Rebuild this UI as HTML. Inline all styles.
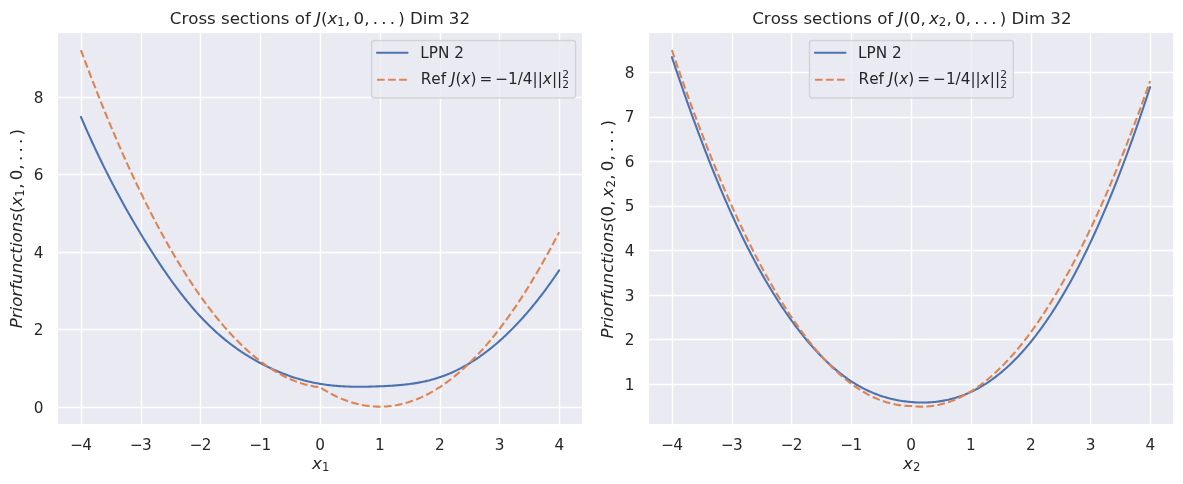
<!DOCTYPE html>
<html lang="en"><head><meta charset="utf-8"><title>Cross sections</title>
<style>html,body{margin:0;padding:0;background:#fff}body{width:1183px;height:484px;overflow:hidden}svg{display:block}svg text{white-space:pre}</style></head>
<body>
<svg width="1183" height="484" viewBox="0 0 1183 484" font-family='"DejaVu Sans","Liberation Sans",sans-serif' fill="#262626">
<rect width="1183" height="484" fill="#fff"/>
<defs><clipPath id="c1"><rect x="57" y="32.2" width="526" height="392.3"/></clipPath><clipPath id="c2"><rect x="648" y="32.2" width="526" height="392.3"/></clipPath></defs>
<g id="axes1">
<rect x="58" y="33" width="524" height="391" fill="#eaeaf2"/>
<path d="M81.5 33V424M141.5 33V424M200.5 33V424M260.5 33V424M320.5 33V424M380.5 33V424M440.5 33V424M499.5 33V424M559.5 33V424M58 407.5H582M58 329.5H582M58 252.5H582M58 174.5H582M58 97.5H582" stroke="#fff" stroke-width="1.39" fill="none"/>
<path d="M80.91 116.87L82.4 120.34L83.9 123.78L85.39 127.18L86.89 130.55L88.38 133.88L89.88 137.19L91.37 140.46L92.86 143.71L94.36 146.92L95.85 150.11L97.35 153.26L98.84 156.38L100.34 159.48L101.83 162.55L103.32 165.59L104.82 168.6L106.31 171.59L107.81 174.55L109.3 177.48L110.8 180.39L112.29 183.27L113.78 186.13L115.28 188.96L116.77 191.77L118.27 194.56L119.76 197.32L121.26 200.06L122.75 202.77L124.24 205.47L125.74 208.14L127.23 210.79L128.73 213.43L130.22 216.04L131.72 218.63L133.21 221.2L134.7 223.75L136.2 226.29L137.69 228.8L139.19 231.3L140.68 233.78L142.18 236.24L143.67 238.69L145.16 241.12L146.66 243.53L148.15 245.92L149.65 248.3L151.14 250.65L152.64 252.99L154.13 255.31L155.62 257.61L157.12 259.89L158.61 262.15L160.11 264.39L161.6 266.61L163.1 268.81L164.59 271L166.09 273.16L167.58 275.29L169.07 277.41L170.57 279.51L172.06 281.58L173.56 283.64L175.05 285.67L176.55 287.67L178.04 289.66L179.53 291.62L181.03 293.56L182.52 295.48L184.02 297.37L185.51 299.24L187.01 301.09L188.5 302.91L189.99 304.71L191.49 306.48L192.98 308.23L194.48 309.95L195.97 311.64L197.47 313.32L198.96 314.96L200.45 316.58L201.95 318.17L203.44 319.74L204.94 321.28L206.43 322.8L207.93 324.29L209.42 325.75L210.91 327.2L212.41 328.61L213.9 330.01L215.4 331.38L216.89 332.72L218.39 334.05L219.88 335.35L221.38 336.63L222.87 337.88L224.36 339.12L225.86 340.33L227.35 341.52L228.85 342.7L230.34 343.85L231.84 344.98L233.33 346.09L234.82 347.18L236.32 348.25L237.81 349.3L239.31 350.34L240.8 351.35L242.3 352.35L243.79 353.33L245.28 354.29L246.78 355.24L248.27 356.17L249.77 357.08L251.26 357.97L252.76 358.85L254.25 359.72L255.74 360.56L257.24 361.4L258.73 362.22L260.23 363.02L261.72 363.81L263.22 364.58L264.71 365.35L266.2 366.09L267.7 366.83L269.19 367.55L270.69 368.25L272.18 368.94L273.68 369.62L275.17 370.28L276.66 370.93L278.16 371.57L279.65 372.19L281.15 372.8L282.64 373.39L284.14 373.97L285.63 374.54L287.12 375.09L288.62 375.63L290.11 376.16L291.61 376.67L293.1 377.17L294.6 377.65L296.09 378.12L297.59 378.58L299.08 379.03L300.57 379.46L302.07 379.87L303.56 380.28L305.06 380.67L306.55 381.05L308.05 381.41L309.54 381.76L311.03 382.1L312.53 382.42L314.02 382.73L315.52 383.03L317.01 383.32L318.51 383.59L320 383.85L321.49 384.09L322.99 384.33L324.48 384.55L325.98 384.76L327.47 384.95L328.97 385.14L330.46 385.31L331.95 385.47L333.45 385.62L334.94 385.76L336.44 385.89L337.93 386.01L339.43 386.12L340.92 386.22L342.41 386.31L343.91 386.39L345.4 386.46L346.9 386.53L348.39 386.58L349.89 386.63L351.38 386.67L352.88 386.7L354.37 386.73L355.86 386.75L357.36 386.76L358.85 386.76L360.35 386.76L361.84 386.75L363.34 386.74L364.83 386.72L366.32 386.7L367.82 386.67L369.31 386.64L370.81 386.6L372.3 386.56L373.8 386.51L375.29 386.46L376.78 386.41L378.28 386.36L379.77 386.3L381.27 386.24L382.76 386.17L384.26 386.1L385.75 386.03L387.24 385.96L388.74 385.88L390.23 385.79L391.73 385.7L393.22 385.61L394.72 385.5L396.21 385.39L397.7 385.28L399.2 385.15L400.69 385.02L402.19 384.88L403.68 384.73L405.18 384.57L406.67 384.4L408.16 384.22L409.66 384.03L411.15 383.83L412.65 383.61L414.14 383.39L415.64 383.15L417.13 382.9L418.62 382.64L420.12 382.36L421.61 382.07L423.11 381.77L424.6 381.45L426.1 381.11L427.59 380.76L429.09 380.39L430.58 380.01L432.07 379.61L433.57 379.19L435.06 378.76L436.56 378.3L438.05 377.83L439.55 377.34L441.04 376.82L442.53 376.29L444.03 375.74L445.52 375.17L447.02 374.58L448.51 373.97L450.01 373.34L451.5 372.69L452.99 372.02L454.49 371.33L455.98 370.62L457.48 369.89L458.97 369.14L460.47 368.37L461.96 367.58L463.45 366.77L464.95 365.94L466.44 365.09L467.94 364.22L469.43 363.32L470.93 362.41L472.42 361.48L473.91 360.53L475.41 359.55L476.9 358.56L478.4 357.54L479.89 356.5L481.39 355.45L482.88 354.37L484.38 353.27L485.87 352.15L487.36 351.01L488.86 349.85L490.35 348.67L491.85 347.46L493.34 346.24L494.84 344.99L496.33 343.72L497.82 342.43L499.32 341.12L500.81 339.79L502.31 338.44L503.8 337.07L505.3 335.67L506.79 334.25L508.28 332.81L509.78 331.35L511.27 329.87L512.77 328.36L514.26 326.84L515.76 325.29L517.25 323.72L518.74 322.12L520.24 320.51L521.73 318.87L523.23 317.21L524.72 315.52L526.22 313.82L527.71 312.09L529.2 310.33L530.7 308.56L532.19 306.76L533.69 304.94L535.18 303.1L536.68 301.23L538.17 299.34L539.66 297.42L541.16 295.49L542.65 293.53L544.15 291.54L545.64 289.53L547.14 287.5L548.63 285.45L550.12 283.37L551.62 281.26L553.11 279.14L554.61 276.99L556.1 274.81L557.6 272.61L559.09 270.39" clip-path="url(#c1)" fill="none" stroke="#4c72b0" stroke-width="2.083" stroke-linecap="round" stroke-linejoin="round"/>
<path d="M80.91 50.03L82.4 54.07L83.9 58.08L85.39 62.06L86.89 66.02L88.38 69.96L89.88 73.87L91.37 77.76L92.86 81.63L94.36 85.47L95.85 89.28L97.35 93.07L98.84 96.84L100.34 100.58L101.83 104.3L103.32 108L104.82 111.67L106.31 115.31L107.81 118.94L109.3 122.53L110.8 126.11L112.29 129.66L113.78 133.18L115.28 136.68L116.77 140.16L118.27 143.61L119.76 147.04L121.26 150.44L122.75 153.82L124.24 157.18L125.74 160.51L127.23 163.82L128.73 167.1L130.22 170.36L131.72 173.59L133.21 176.8L134.7 179.99L136.2 183.15L137.69 186.29L139.19 189.4L140.68 192.49L142.18 195.56L143.67 198.6L145.16 201.61L146.66 204.61L148.15 207.57L149.65 210.52L151.14 213.44L152.64 216.33L154.13 219.2L155.62 222.05L157.12 224.87L158.61 227.67L160.11 230.45L161.6 233.2L163.1 235.92L164.59 238.62L166.09 241.3L167.58 243.95L169.07 246.58L170.57 249.19L172.06 251.77L173.56 254.32L175.05 256.85L176.55 259.36L178.04 261.85L179.53 264.3L181.03 266.74L182.52 269.15L184.02 271.54L185.51 273.9L187.01 276.24L188.5 278.55L189.99 280.84L191.49 283.11L192.98 285.35L194.48 287.56L195.97 289.76L197.47 291.92L198.96 294.07L200.45 296.19L201.95 298.28L203.44 300.36L204.94 302.4L206.43 304.43L207.93 306.42L209.42 308.4L210.91 310.35L212.41 312.28L213.9 314.18L215.4 316.06L216.89 317.91L218.39 319.74L219.88 321.54L221.38 323.32L222.87 325.08L224.36 326.81L225.86 328.52L227.35 330.2L228.85 331.86L230.34 333.5L231.84 335.11L233.33 336.7L234.82 338.26L236.32 339.8L237.81 341.31L239.31 342.8L240.8 344.27L242.3 345.71L243.79 347.13L245.28 348.52L246.78 349.89L248.27 351.23L249.77 352.55L251.26 353.85L252.76 355.12L254.25 356.37L255.74 357.59L257.24 358.79L258.73 359.97L260.23 361.12L261.72 362.25L263.22 363.35L264.71 364.43L266.2 365.48L267.7 366.51L269.19 367.52L270.69 368.5L272.18 369.45L273.68 370.39L275.17 371.3L276.66 372.18L278.16 373.04L279.65 373.88L281.15 374.69L282.64 375.47L284.14 376.24L285.63 376.98L287.12 377.69L288.62 378.38L290.11 379.05L291.61 379.69L293.1 380.31L294.6 380.9L296.09 381.47L297.59 382.02L299.08 382.54L300.57 383.03L302.07 383.51L303.56 383.95L305.06 384.38L306.55 384.78L308.05 385.15L309.54 385.51L311.03 385.83L312.53 386.13L314.02 386.41L315.52 386.67L317.01 386.9L318.51 387.1L320 387.29L321.49 388.24L322.99 389.18L324.48 390.08L325.98 390.97L327.47 391.83L328.97 392.66L330.46 393.48L331.95 394.26L333.45 395.03L334.94 395.77L336.44 396.48L337.93 397.17L339.43 397.84L340.92 398.48L342.41 399.1L343.91 399.69L345.4 400.26L346.9 400.81L348.39 401.33L349.89 401.82L351.38 402.3L352.88 402.74L354.37 403.17L355.86 403.57L357.36 403.94L358.85 404.29L360.35 404.62L361.84 404.92L363.34 405.2L364.83 405.46L366.32 405.69L367.82 405.89L369.31 406.07L370.81 406.23L372.3 406.37L373.8 406.47L375.29 406.56L376.78 406.62L378.28 406.66L379.77 406.67L381.27 406.66L382.76 406.62L384.26 406.56L385.75 406.47L387.24 406.37L388.74 406.23L390.23 406.07L391.73 405.89L393.22 405.69L394.72 405.46L396.21 405.2L397.7 404.92L399.2 404.62L400.69 404.29L402.19 403.94L403.68 403.57L405.18 403.17L406.67 402.74L408.16 402.3L409.66 401.82L411.15 401.33L412.65 400.81L414.14 400.26L415.64 399.69L417.13 399.1L418.62 398.48L420.12 397.84L421.61 397.17L423.11 396.48L424.6 395.77L426.1 395.03L427.59 394.26L429.09 393.48L430.58 392.66L432.07 391.83L433.57 390.97L435.06 390.08L436.56 389.18L438.05 388.24L439.55 387.29L441.04 386.3L442.53 385.3L444.03 384.27L445.52 383.22L447.02 382.14L448.51 381.03L450.01 379.91L451.5 378.76L452.99 377.58L454.49 376.38L455.98 375.16L457.48 373.91L458.97 372.64L460.47 371.34L461.96 370.02L463.45 368.68L464.95 367.31L466.44 365.92L467.94 364.5L469.43 363.06L470.93 361.59L472.42 360.1L473.91 358.59L475.41 357.05L476.9 355.49L478.4 353.9L479.89 352.29L481.39 350.65L482.88 348.99L484.38 347.31L485.87 345.6L487.36 343.87L488.86 342.11L490.35 340.33L491.85 338.53L493.34 336.7L494.84 334.84L496.33 332.97L497.82 331.06L499.32 329.14L500.81 327.19L502.31 325.21L503.8 323.21L505.3 321.19L506.79 319.14L508.28 317.07L509.78 314.98L511.27 312.86L512.77 310.71L514.26 308.54L515.76 306.35L517.25 304.14L518.74 301.89L520.24 299.63L521.73 297.34L523.23 295.03L524.72 292.69L526.22 290.33L527.71 287.94L529.2 285.53L530.7 283.09L532.19 280.63L533.69 278.15L535.18 275.64L536.68 273.11L538.17 270.56L539.66 267.97L541.16 265.37L542.65 262.74L544.15 260.09L545.64 257.41L547.14 254.71L548.63 251.98L550.12 249.23L551.62 246.46L553.11 243.66L554.61 240.84L556.1 237.99L557.6 235.12L559.09 232.23" clip-path="url(#c1)" fill="none" stroke="#dd8452" stroke-width="2.083" stroke-dasharray="7.708 3.333" stroke-linejoin="round"/>
</g>
<g id="axes2">
<rect x="649" y="33" width="524" height="391" fill="#eaeaf2"/>
<path d="M672.5 33V424M732.5 33V424M791.5 33V424M851.5 33V424M911.5 33V424M971.5 33V424M1031.5 33V424M1090.5 33V424M1150.5 33V424M649 384.5H1173M649 339.5H1173M649 295.5H1173M649 250.5H1173M649 206.5H1173M649 161.5H1173M649 117.5H1173M649 72.5H1173" stroke="#fff" stroke-width="1.39" fill="none"/>
<path d="M671.91 57.18L673.4 61.66L674.9 66.12L676.39 70.56L677.89 74.96L679.38 79.34L680.88 83.7L682.37 88.02L683.86 92.32L685.36 96.59L686.85 100.84L688.35 105.05L689.84 109.24L691.34 113.4L692.83 117.53L694.32 121.64L695.82 125.71L697.31 129.75L698.81 133.77L700.3 137.75L701.8 141.71L703.29 145.63L704.78 149.53L706.28 153.39L707.77 157.23L709.27 161.03L710.76 164.8L712.26 168.54L713.75 172.25L715.24 175.93L716.74 179.57L718.23 183.18L719.73 186.76L721.22 190.31L722.72 193.83L724.21 197.31L725.7 200.76L727.2 204.17L728.69 207.55L730.19 210.9L731.68 214.21L733.18 217.49L734.67 220.74L736.16 223.95L737.66 227.12L739.15 230.27L740.65 233.37L742.14 236.45L743.64 239.49L745.13 242.5L746.62 245.48L748.12 248.43L749.61 251.34L751.11 254.22L752.6 257.07L754.1 259.88L755.59 262.67L757.09 265.42L758.58 268.14L760.07 270.83L761.57 273.49L763.06 276.12L764.56 278.72L766.05 281.29L767.55 283.82L769.04 286.33L770.53 288.81L772.03 291.26L773.52 293.67L775.02 296.06L776.51 298.42L778.01 300.75L779.5 303.05L780.99 305.33L782.49 307.57L783.98 309.79L785.48 311.97L786.97 314.13L788.47 316.27L789.96 318.37L791.45 320.45L792.95 322.5L794.44 324.52L795.94 326.51L797.43 328.48L798.93 330.42L800.42 332.34L801.91 334.22L803.41 336.08L804.9 337.92L806.4 339.72L807.89 341.5L809.39 343.25L810.88 344.97L812.38 346.67L813.87 348.34L815.36 349.98L816.86 351.6L818.35 353.18L819.85 354.74L821.34 356.28L822.84 357.78L824.33 359.26L825.82 360.72L827.32 362.14L828.81 363.54L830.31 364.91L831.8 366.26L833.3 367.58L834.79 368.87L836.28 370.13L837.78 371.37L839.27 372.58L840.77 373.76L842.26 374.92L843.76 376.05L845.25 377.15L846.74 378.22L848.24 379.27L849.73 380.29L851.23 381.29L852.72 382.26L854.22 383.2L855.71 384.11L857.2 385L858.7 385.87L860.19 386.7L861.69 387.52L863.18 388.31L864.68 389.07L866.17 389.81L867.66 390.52L869.16 391.21L870.65 391.88L872.15 392.53L873.64 393.15L875.14 393.75L876.63 394.32L878.12 394.88L879.62 395.41L881.11 395.92L882.61 396.41L884.1 396.88L885.6 397.32L887.09 397.75L888.59 398.16L890.08 398.55L891.57 398.91L893.07 399.26L894.56 399.59L896.06 399.9L897.55 400.19L899.05 400.47L900.54 400.72L902.03 400.96L903.53 401.18L905.02 401.38L906.52 401.57L908.01 401.74L909.51 401.89L911 402.03L912.49 402.15L913.99 402.26L915.48 402.35L916.98 402.42L918.47 402.48L919.97 402.52L921.46 402.54L922.95 402.54L924.45 402.53L925.94 402.5L927.44 402.45L928.93 402.38L930.43 402.29L931.92 402.19L933.41 402.07L934.91 401.92L936.4 401.76L937.9 401.57L939.39 401.37L940.89 401.15L942.38 400.9L943.88 400.64L945.37 400.35L946.86 400.04L948.36 399.72L949.85 399.36L951.35 398.99L952.84 398.6L954.34 398.18L955.83 397.74L957.32 397.27L958.82 396.79L960.31 396.28L961.81 395.74L963.3 395.18L964.8 394.6L966.29 393.99L967.78 393.36L969.28 392.7L970.77 392.02L972.27 391.31L973.76 390.58L975.26 389.82L976.75 389.04L978.24 388.23L979.74 387.39L981.23 386.52L982.73 385.63L984.22 384.72L985.72 383.77L987.21 382.8L988.7 381.81L990.2 380.78L991.69 379.73L993.19 378.65L994.68 377.54L996.18 376.4L997.67 375.24L999.16 374.05L1000.66 372.83L1002.15 371.58L1003.65 370.3L1005.14 369L1006.64 367.66L1008.13 366.3L1009.62 364.91L1011.12 363.48L1012.61 362.03L1014.11 360.55L1015.6 359.04L1017.1 357.5L1018.59 355.93L1020.09 354.32L1021.58 352.69L1023.07 351.03L1024.57 349.34L1026.06 347.61L1027.56 345.86L1029.05 344.07L1030.55 342.25L1032.04 340.4L1033.53 338.52L1035.03 336.61L1036.52 334.67L1038.02 332.69L1039.51 330.68L1041.01 328.64L1042.5 326.57L1043.99 324.47L1045.49 322.33L1046.98 320.16L1048.48 317.96L1049.97 315.73L1051.47 313.46L1052.96 311.16L1054.45 308.83L1055.95 306.46L1057.44 304.06L1058.94 301.63L1060.43 299.16L1061.93 296.66L1063.42 294.13L1064.91 291.56L1066.41 288.96L1067.9 286.33L1069.4 283.66L1070.89 280.96L1072.39 278.22L1073.88 275.45L1075.38 272.64L1076.87 269.8L1078.36 266.93L1079.86 264.02L1081.35 261.07L1082.85 258.1L1084.34 255.08L1085.84 252.03L1087.33 248.95L1088.82 245.83L1090.32 242.67L1091.81 239.48L1093.31 236.25L1094.8 232.99L1096.3 229.69L1097.79 226.36L1099.28 222.99L1100.78 219.58L1102.27 216.14L1103.77 212.67L1105.26 209.16L1106.76 205.61L1108.25 202.03L1109.74 198.41L1111.24 194.75L1112.73 191.06L1114.23 187.33L1115.72 183.57L1117.22 179.78L1118.71 175.94L1120.2 172.07L1121.7 168.17L1123.19 164.23L1124.69 160.25L1126.18 156.24L1127.68 152.19L1129.17 148.1L1130.66 143.98L1132.16 139.83L1133.65 135.63L1135.15 131.41L1136.64 127.14L1138.14 122.84L1139.63 118.51L1141.12 114.13L1142.62 109.73L1144.11 105.28L1145.61 100.8L1147.1 96.29L1148.6 91.73L1150.09 87.15" clip-path="url(#c2)" fill="none" stroke="#4c72b0" stroke-width="2.083" stroke-linecap="round" stroke-linejoin="round"/>
<path d="M671.91 50.03L673.4 54.47L674.9 58.88L676.39 63.25L677.89 67.61L679.38 71.93L680.88 76.23L682.37 80.5L683.86 84.74L685.36 88.95L686.85 93.14L688.35 97.29L689.84 101.42L691.34 105.52L692.83 109.6L694.32 113.64L695.82 117.66L697.31 121.65L698.81 125.62L700.3 129.55L701.8 133.46L703.29 137.34L704.78 141.19L706.28 145.01L707.77 148.81L709.27 152.58L710.76 156.32L712.26 160.03L713.75 163.71L715.24 167.37L716.74 171L718.23 174.6L719.73 178.18L721.22 181.72L722.72 185.24L724.21 188.73L725.7 192.19L727.2 195.63L728.69 199.03L730.19 202.41L731.68 205.76L733.18 209.09L734.67 212.38L736.16 215.65L737.66 218.89L739.15 222.1L740.65 225.28L742.14 228.44L743.64 231.57L745.13 234.67L746.62 237.74L748.12 240.79L749.61 243.8L751.11 246.79L752.6 249.76L754.1 252.69L755.59 255.6L757.09 258.47L758.58 261.32L760.07 264.15L761.57 266.94L763.06 269.71L764.56 272.45L766.05 275.16L767.55 277.84L769.04 280.5L770.53 283.13L772.03 285.73L773.52 288.3L775.02 290.84L776.51 293.36L778.01 295.85L779.5 298.31L780.99 300.74L782.49 303.15L783.98 305.53L785.48 307.88L786.97 310.2L788.47 312.49L789.96 314.76L791.45 317L792.95 319.21L794.44 321.39L795.94 323.55L797.43 325.67L798.93 327.77L800.42 329.85L801.91 331.89L803.41 333.91L804.9 335.89L806.4 337.85L807.89 339.79L809.39 341.69L810.88 343.57L812.38 345.42L813.87 347.24L815.36 349.03L816.86 350.8L818.35 352.54L819.85 354.25L821.34 355.93L822.84 357.59L824.33 359.21L825.82 360.81L827.32 362.38L828.81 363.93L830.31 365.44L831.8 366.93L833.3 368.39L834.79 369.82L836.28 371.23L837.78 372.6L839.27 373.95L840.77 375.27L842.26 376.56L843.76 377.83L845.25 379.07L846.74 380.28L848.24 381.46L849.73 382.61L851.23 383.74L852.72 384.84L854.22 385.91L855.71 386.95L857.2 387.97L858.7 388.95L860.19 389.91L861.69 390.84L863.18 391.75L864.68 392.62L866.17 393.47L867.66 394.29L869.16 395.09L870.65 395.85L872.15 396.59L873.64 397.3L875.14 397.98L876.63 398.63L878.12 399.26L879.62 399.85L881.11 400.43L882.61 400.97L884.1 401.48L885.6 401.97L887.09 402.43L888.59 402.86L890.08 403.26L891.57 403.64L893.07 403.98L894.56 404.3L896.06 404.6L897.55 404.86L899.05 405.1L900.54 405.31L902.03 405.49L903.53 405.64L905.02 405.76L906.52 405.86L908.01 405.93L909.51 405.97L911 405.99L912.49 406.17L913.99 406.32L915.48 406.45L916.98 406.54L918.47 406.61L919.97 406.65L921.46 406.67L922.95 406.65L924.45 406.61L925.94 406.54L927.44 406.45L928.93 406.32L930.43 406.17L931.92 405.99L933.41 405.78L934.91 405.54L936.4 405.28L937.9 404.99L939.39 404.67L940.89 404.32L942.38 403.94L943.88 403.54L945.37 403.11L946.86 402.65L948.36 402.16L949.85 401.65L951.35 401.11L952.84 400.54L954.34 399.94L955.83 399.31L957.32 398.66L958.82 397.98L960.31 397.27L961.81 396.53L963.3 395.77L964.8 394.97L966.29 394.15L967.78 393.31L969.28 392.43L970.77 391.53L972.27 390.59L973.76 389.64L975.26 388.65L976.75 387.63L978.24 386.59L979.74 385.52L981.23 384.42L982.73 383.29L984.22 382.14L985.72 380.96L987.21 379.75L988.7 378.51L990.2 377.25L991.69 375.95L993.19 374.63L994.68 373.28L996.18 371.91L997.67 370.5L999.16 369.07L1000.66 367.61L1002.15 366.12L1003.65 364.61L1005.14 363.06L1006.64 361.49L1008.13 359.89L1009.62 358.27L1011.12 356.61L1012.61 354.93L1014.11 353.22L1015.6 351.48L1017.1 349.72L1018.59 347.92L1020.09 346.1L1021.58 344.25L1023.07 342.37L1024.57 340.47L1026.06 338.54L1027.56 336.58L1029.05 334.59L1030.55 332.57L1032.04 330.53L1033.53 328.46L1035.03 326.36L1036.52 324.23L1038.02 322.07L1039.51 319.89L1041.01 317.68L1042.5 315.44L1043.99 313.17L1045.49 310.88L1046.98 308.56L1048.48 306.21L1049.97 303.83L1051.47 301.43L1052.96 298.99L1054.45 296.53L1055.95 294.04L1057.44 291.53L1058.94 288.98L1060.43 286.41L1061.93 283.81L1063.42 281.18L1064.91 278.52L1066.41 275.84L1067.9 273.13L1069.4 270.39L1070.89 267.62L1072.39 264.83L1073.88 262.01L1075.38 259.16L1076.87 256.28L1078.36 253.37L1079.86 250.44L1081.35 247.48L1082.85 244.49L1084.34 241.47L1085.84 238.42L1087.33 235.35L1088.82 232.25L1090.32 229.12L1091.81 225.97L1093.31 222.78L1094.8 219.57L1096.3 216.33L1097.79 213.06L1099.28 209.77L1100.78 206.44L1102.27 203.09L1103.77 199.71L1105.26 196.31L1106.76 192.87L1108.25 189.41L1109.74 185.92L1111.24 182.4L1112.73 178.86L1114.23 175.28L1115.72 171.68L1117.22 168.05L1118.71 164.4L1120.2 160.71L1121.7 157L1123.19 153.26L1124.69 149.49L1126.18 145.69L1127.68 141.87L1129.17 138.02L1130.66 134.14L1132.16 130.23L1133.65 126.3L1135.15 122.34L1136.64 118.34L1138.14 114.33L1139.63 110.28L1141.12 106.21L1142.62 102.1L1144.11 97.97L1145.61 93.82L1147.1 89.63L1148.6 85.42L1150.09 81.18" clip-path="url(#c2)" fill="none" stroke="#dd8452" stroke-width="2.083" stroke-dasharray="7.708 3.333" stroke-linejoin="round"/>
</g>
<g id="legend1">
<rect x="371.6" y="40.5" width="204" height="57.5" rx="3.06" ry="3.06" fill="#eaeaf2" fill-opacity="0.8" stroke="#ccc" stroke-opacity="0.8" stroke-width="1.39"/>
<path d="M377 52.75H407.56" stroke="#4c72b0" stroke-width="2.083" stroke-linecap="round" fill="none"/>
<path d="M377 79.8H407.56" stroke="#dd8452" stroke-width="2.083" stroke-dasharray="7.708 3.333" fill="none"/>
</g>
<g id="legend2">
<rect x="809.5" y="40.5" width="203.8" height="57.5" rx="3.06" ry="3.06" fill="#eaeaf2" fill-opacity="0.8" stroke="#ccc" stroke-opacity="0.8" stroke-width="1.39"/>
<path d="M814.9 52.75H845.46" stroke="#4c72b0" stroke-width="2.083" stroke-linecap="round" fill="none"/>
<path d="M814.9 79.8H845.46" stroke="#dd8452" stroke-width="2.083" stroke-dasharray="7.708 3.333" fill="none"/>
</g>
<text x="70.26 82.26" y="450.11" font-size="15.28">−4</text>
<text x="130.03 142.03" y="450.11" font-size="15.28">−3</text>
<text x="189.8 201.8" y="450.11" font-size="15.28">−2</text>
<text x="249.58 261.58" y="450.11" font-size="15.28">−1</text>
<text x="320.21" y="450.11" font-size="15.28" text-anchor="middle">0</text>
<text x="379.98" y="450.11" font-size="15.28" text-anchor="middle">1</text>
<text x="439.76" y="450.11" font-size="15.28" text-anchor="middle">2</text>
<text x="499.53" y="450.11" font-size="15.28" text-anchor="middle">3</text>
<text x="559.3" y="450.11" font-size="15.28" text-anchor="middle">4</text>
<text transform="translate(312.09 469.51)" xml:space="preserve"><tspan x="0" y="-0.61" font-size="16.67" font-style="italic">x</tspan><tspan x="9.86" y="1.39" font-size="11.67">1</tspan></text>
<text x="43.52" y="412.75" font-size="15.28" text-anchor="end">0</text>
<text x="43.52" y="335.25" font-size="15.28" text-anchor="end">2</text>
<text x="43.52" y="257.75" font-size="15.28" text-anchor="end">4</text>
<text x="43.52" y="180.25" font-size="15.28" text-anchor="end">6</text>
<text x="43.52" y="102.75" font-size="15.28" text-anchor="end">8</text>
<text transform="translate(23.27 328.36) rotate(-90)" xml:space="preserve"><tspan x="0 10.05 16.9 21.53 31.73 38.58 44.45 55.01 65.58 74.74 81.27 85.9 96.1 106.67" y="-1.22" font-size="16.67" font-style="italic">Priorfunctions</tspan><tspan x="115.35" y="-1.22" font-size="16.67">(</tspan><tspan x="121.85" y="-1.22" font-size="16.67" font-style="italic">x</tspan><tspan x="131.71" y="0.79" font-size="11.67">1</tspan><tspan x="139.59 148.14 158.74 167.29 175.83 184.38 192.92" y="-1.22" font-size="16.67">,0,...)</tspan></text>
<text transform="translate(169.84 24.98)" xml:space="preserve"><tspan x="0 11.6 18.42 28.59 37.24 45.89 51.17 59.82 70.04 79.17 85.69 90.3 100.46 110.99 119.64 124.92 135.08 140.93" y="-1.22" font-size="16.67">Cross sections of </tspan><tspan x="146.21" y="-1.22" font-size="16.67" font-style="italic">J</tspan><tspan x="151.11" y="-1.22" font-size="16.67">(</tspan><tspan x="157.58" y="-1.22" font-size="16.67" font-style="italic">x</tspan><tspan x="167.41" y="0.79" font-size="11.67">1</tspan><tspan x="175.26 183.78 194.35 202.86 211.38 219.89 228.41 234.89 240.16 252.95 257.57 273.75 279.03 289.59" y="-1.22" font-size="16.67">,0,...) Dim 32</tspan></text>
<text x="420.2" y="57.9" font-size="15.28" text-anchor="start">LPN 2</text>
<text transform="translate(420.7 83.99)" xml:space="preserve"><tspan x="0 10.62 20.01 25.39" y="-0.1" font-size="15.28">Ref </tspan><tspan x="30.25" y="-0.1" font-size="15.28" font-style="italic">J</tspan><tspan x="34.76" y="-0.1" font-size="15.28">(</tspan><tspan x="40.72" y="-0.1" font-size="15.28" font-style="italic">x</tspan><tspan x="49.76 58.69 74.47 87.27 96.99 102.14 111.86 117.01" y="-0.1" font-size="15.28">)=−1/4||</tspan><tspan x="122.16" y="-0.1" font-size="15.28" font-style="italic">x</tspan><tspan x="131.2 136.34" y="-0.1" font-size="15.28">||</tspan><tspan x="141.64" y="-6" font-size="10.69">2</tspan><tspan x="141.64" y="4.3" font-size="10.69">2</tspan></text>
<text x="661.26 673.26" y="450.11" font-size="15.28">−4</text>
<text x="721.03 733.03" y="450.11" font-size="15.28">−3</text>
<text x="780.8 792.8" y="450.11" font-size="15.28">−2</text>
<text x="840.58 852.58" y="450.11" font-size="15.28">−1</text>
<text x="911.21" y="450.11" font-size="15.28" text-anchor="middle">0</text>
<text x="970.98" y="450.11" font-size="15.28" text-anchor="middle">1</text>
<text x="1030.76" y="450.11" font-size="15.28" text-anchor="middle">2</text>
<text x="1090.53" y="450.11" font-size="15.28" text-anchor="middle">3</text>
<text x="1150.3" y="450.11" font-size="15.28" text-anchor="middle">4</text>
<text transform="translate(903.09 469.51)" xml:space="preserve"><tspan x="0" y="-0.61" font-size="16.67" font-style="italic">x</tspan><tspan x="9.86" y="1.39" font-size="11.67">2</tspan></text>
<text x="634.52" y="389.74" font-size="15.28" text-anchor="end">1</text>
<text x="634.52" y="345.18" font-size="15.28" text-anchor="end">2</text>
<text x="634.52" y="300.61" font-size="15.28" text-anchor="end">3</text>
<text x="634.52" y="256.04" font-size="15.28" text-anchor="end">4</text>
<text x="634.52" y="211.47" font-size="15.28" text-anchor="end">5</text>
<text x="634.52" y="166.9" font-size="15.28" text-anchor="end">6</text>
<text x="634.52" y="122.33" font-size="15.28" text-anchor="end">7</text>
<text x="634.52" y="77.76" font-size="15.28" text-anchor="end">8</text>
<text transform="translate(614.47 338.44) rotate(-90)" xml:space="preserve"><tspan x="0 10.05 16.9 21.53 31.73 38.58 44.45 55.01 65.58 74.74 81.27 85.9 96.1 106.67" y="-1.22" font-size="16.67" font-style="italic">Priorfunctions</tspan><tspan x="115.35 121.85 132.45" y="-1.22" font-size="16.67">(0,</tspan><tspan x="141" y="-1.22" font-size="16.67" font-style="italic">x</tspan><tspan x="150.86" y="0.79" font-size="11.67">2</tspan><tspan x="158.74 167.29 177.89 186.43 194.98 203.52 212.07" y="-1.22" font-size="16.67">,0,...)</tspan></text>
<text transform="translate(752.26 24.98)" xml:space="preserve"><tspan x="0 11.6 18.42 28.59 37.24 45.89 51.17 59.82 70.04 79.17 85.69 90.3 100.46 110.99 119.64 124.92 135.08 140.93" y="-1.22" font-size="16.67">Cross sections of </tspan><tspan x="146.21" y="-1.22" font-size="16.67" font-style="italic">J</tspan><tspan x="151.11 157.58 168.15" y="-1.22" font-size="16.67">(0,</tspan><tspan x="176.67" y="-1.22" font-size="16.67" font-style="italic">x</tspan><tspan x="186.5" y="0.79" font-size="11.67">2</tspan><tspan x="194.35 202.86 213.43 221.94 230.46 238.97 247.49 253.97 259.25 272.04 276.65 292.83 298.11 308.67" y="-1.22" font-size="16.67">,0,...) Dim 32</tspan></text>
<text x="858.02" y="57.9" font-size="15.28" text-anchor="start">LPN 2</text>
<text transform="translate(858.62 83.99)" xml:space="preserve"><tspan x="0 10.62 20.01 25.39" y="-0.1" font-size="15.28">Ref </tspan><tspan x="30.25" y="-0.1" font-size="15.28" font-style="italic">J</tspan><tspan x="34.76" y="-0.1" font-size="15.28">(</tspan><tspan x="40.72" y="-0.1" font-size="15.28" font-style="italic">x</tspan><tspan x="49.76 58.69 74.47 87.27 96.99 102.14 111.86 117.01" y="-0.1" font-size="15.28">)=−1/4||</tspan><tspan x="122.16" y="-0.1" font-size="15.28" font-style="italic">x</tspan><tspan x="131.2 136.34" y="-0.1" font-size="15.28">||</tspan><tspan x="141.64" y="-6" font-size="10.69">2</tspan><tspan x="141.64" y="4.3" font-size="10.69">2</tspan></text>
</svg>
</body></html>
